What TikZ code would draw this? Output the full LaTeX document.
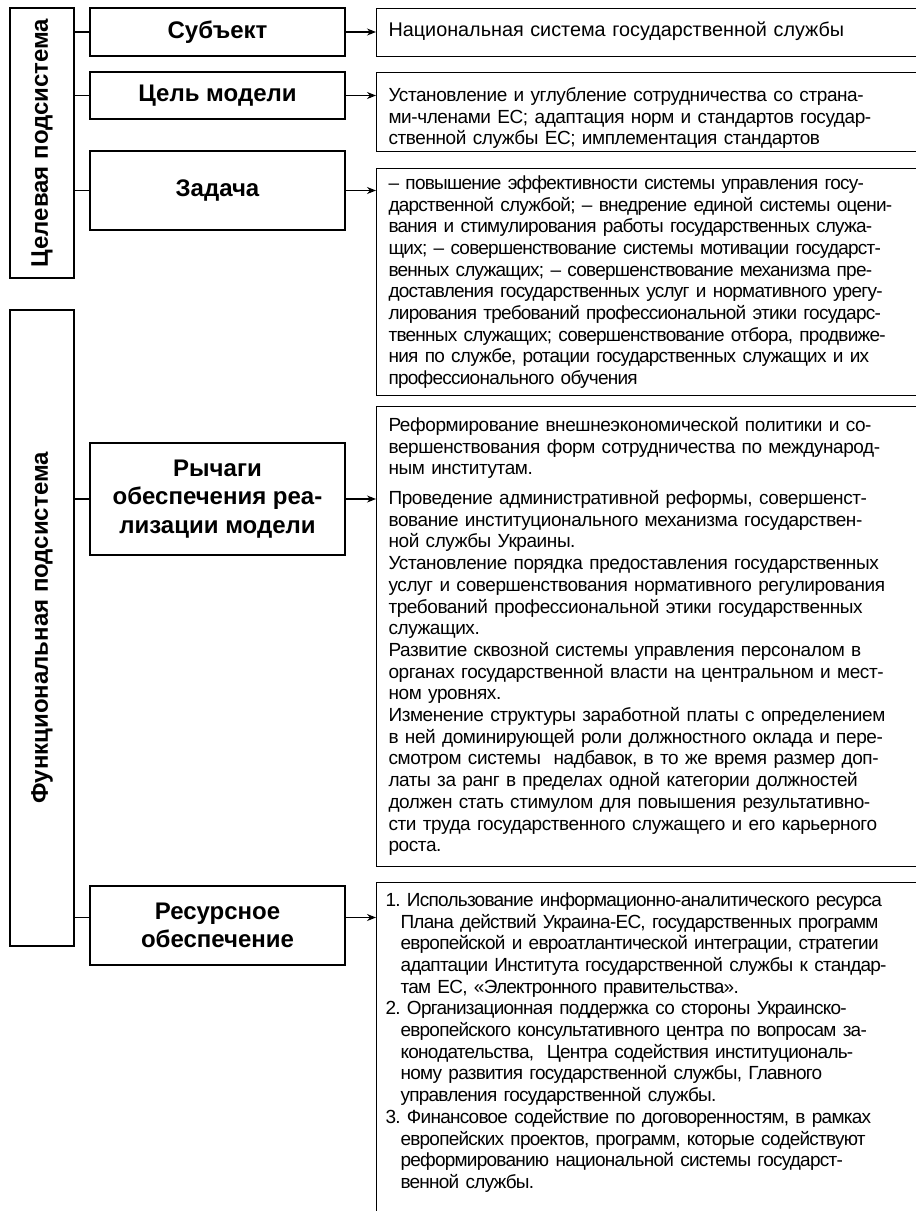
\documentclass[tikz,border=0pt]{standalone}
\usepackage{fontspec}
\setmainfont{Liberation Sans}
\newfontfamily\condfont[LetterSpace=-2.2]{Liberation Sans}
\newfontfamily\tightfont[LetterSpace=-4]{Liberation Sans}
\usepackage{tikz}
\usetikzlibrary{calc, positioning}
\usetikzlibrary{arrows.meta}
\tikzset{>={Stealth[length=9pt,width=7pt]}}
\newcommand{\hind}{\hspace*{15pt}}

\begin{document}
\begin{tikzpicture}[x=1pt, y=-1pt,
	sysbox/.style={draw, line width=1.1pt, rotate=90, minimum height=64pt, inner sep=0pt, font=\fontsize{24}{28.5}\selectfont\bfseries},
	midbox/.style={draw, line width=1.1pt, minimum width=255pt, inner sep=0pt, align=center, font=\fontsize{24}{28.5}\selectfont\bfseries},
	txtbox/.style={draw, line width=1.1pt, anchor=north west, text width=540pt, inner xsep=12pt, inner ysep=0pt, align=left, font=\condfont\fontsize{19}{21.7}\selectfont},
	link/.style={line width=1.1pt}]
	\useasboundingbox (0,0) rectangle (916,1211);
	\clip (0,0) rectangle (916,1211);
	% subsystems
	\node [sysbox, minimum width=270pt] (tsys) at (42,143) {Целевая подсистема};
	\node [sysbox, minimum width=636pt] (fsys) at (42,628) {Функциональная подсистема};
	% elements of the model
	\node [midbox, minimum height=48pt] (sub) at (217.5,32) {Субъект};
	\node [midbox, minimum height=47pt] (goal) at (217.5,95.5) {Цель модели};
	\node [midbox, minimum height=79pt] (task) at (217.5,190.5) {Задача};
	\node [midbox, minimum height=112pt] (lev) at (217.5,499) {Рычаги\\обеспечения реа-\\лизации модели};
	\node [midbox, minimum height=79pt] (res) at (217.5,925.5) {Ресурсное\\обеспечение};
	% contents
	\node [txtbox, minimum height=48pt, font=\fontsize{19.8}{21.7}\selectfont] (subtxt) at (376,8) {Национальная система государственной службы\rule[-7pt]{0pt}{7pt}};
	\node [txtbox, minimum height=79pt] (goaltxt) at (376,72) {\rule{0pt}{26pt}Установление и углубление сотрудничества со страна-\\ми-членами ЕС; адаптация норм и стандартов государ-\\ственной службы ЕС; имплементация стандартов};
	\node [txtbox, minimum height=227pt, font=\tightfont\fontsize{19}{21.7}\selectfont] (tasktxt) at (376,168) {– повышение эффективности системы управления госу-\\дарственной службой; – внедрение единой системы оцени-\\вания и стимулирования работы государственных служа-\\щих; – совершенствование системы мотивации государст-\\венных служащих; – совершенствование механизма пре-\\доставления государственных услуг и нормативного урегу-\\лирования требований профессиональной этики государс-\\твенных служащих; совершенствование отбора, продвиже-\\ния по службе, ротации государственных служащих и их\\профессионального обучения};
	\node [txtbox, minimum height=460pt] (levtxt) at (376,406) {Реформирование внешнеэкономической политики и со-\\вершенствования форм сотрудничества по международ-\\ным институтам.\\[8pt]Проведение административной реформы, совершенст-\\вование институционального механизма государствен-\\ной службы Украины.\\Установление порядка предоставления государственных\\услуг и совершенствования нормативного регулирования\\требований профессиональной этики государственных\\служащих.\\Развитие сквозной системы управления персоналом в\\органах государственной власти на центральном и мест-\\ном уровнях.\\Изменение структуры заработной платы с определением\\в ней доминирующей роли должностного оклада и пере-\\смотром системы~ надбавок, в то же время размер доп-\\латы за ранг в пределах одной категории должностей\\должен стать стимулом для повышения результативно-\\сти труда государственного служащего и его карьерного\\роста.};
	\node [txtbox, inner xsep=9pt, text width=546pt, inner ysep=10pt, font=\tightfont\fontsize{19}{21.7}\selectfont] (restxt) at (376,882) {1.\ Использование информационно-аналитического ресурса\\\hind Плана действий Украина-ЕС, государственных программ\\\hind европейской и евроатлантической интеграции, стратегии\\\hind адаптации Института государственной службы к стандар-\\\hind там ЕС, «Электронного правительства».\\2.\ Организационная поддержка со стороны Украинско-\\\hind европейского консультативного центра по вопросам за-\\\hind конодательства,~ Центра содействия институциональ-\\\hind ному развития государственной службы, Главного\\\hind управления государственной службы.\\3.\ Финансовое содействие по договоренностям, в рамках\\\hind европейских проектов, программ, которые содействуют\\\hind реформированию национальной системы государст-\\\hind венной службы.\\[30pt]~};
	% links
	\coordinate (resin) at ([yshift=8pt]res.west);
	\coordinate (resout) at ([yshift=8pt]res.east);
	\draw [link] (tsys.south |- sub.west) -- (sub.west);
	\draw [link] (tsys.south |- goal.west) -- (goal.west);
	\draw [link] (tsys.south |- task.west) -- (task.west);
	\draw [link] (fsys.south |- lev.west) -- (lev.west);
	\draw [link] (fsys.south |- resin) -- (resin);
	\draw [link,->] (sub.east) -- (sub.east -| subtxt.west);
	\draw [link,->] (goal.east) -- (goal.east -| goaltxt.west);
	\draw [link,->] (task.east) -- (task.east -| tasktxt.west);
	\draw [link,->] (lev.east) -- (lev.east -| levtxt.west);
	\draw [link,->] (resout) -- (resout -| restxt.west);
\end{tikzpicture}
\end{document}
